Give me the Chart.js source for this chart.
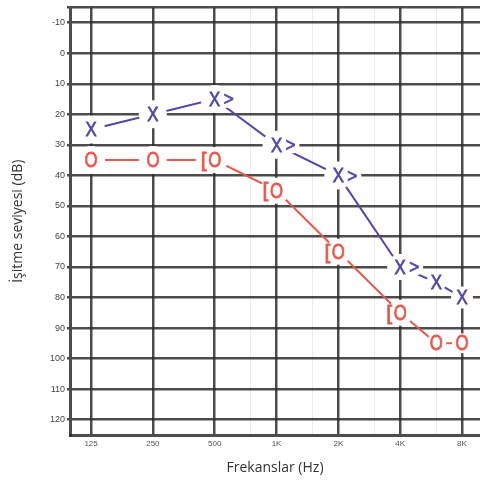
<!DOCTYPE html>
<html>
<head>
<meta charset="utf-8">
<script src="https://cdn.jsdelivr.net/npm/chart.js@4.4.1/dist/chart.umd.min.js"></script>
<style>
  body { margin: 0; background: #fff; }
  canvas { display: block; }
</style>
</head>
<body>
<canvas id="audiogram" width="480" height="484"></canvas>
<script>
// frekanslar (Hz) ve eşik değerleri (dB)
const freqs = [125, 250, 500, 1000, 2000, 4000, 6000, 8000];
const leftAir = [25, 20, 15, 30, 40, 70, 75, 80];
const rightAir = [35, 35, 35, 45, 65, 85, 95, 95];
const boneFreqs = [500, 1000, 2000, 4000];
const leftBone = [15, 30, 40, 70];
const rightBone = [35, 45, 65, 85];

const xTicks = [125, 250, 500, 1000, 2000, 4000, 8000];
const xTickLabels = ['125', '250', '500', '1K', '2K', '4K', '8K'];
const xMinorTicks = [750, 1500, 3000, 6000];
const yTicks = [-15, -10, 0, 10, 20, 30, 40, 50, 60, 70, 80, 90, 100, 110, 120];

const BLUE = '#5047aa';
const RED = '#e9574b';
const GRID = 'rgba(45,45,45,0.85)';

function toPoints(xs, ys) {
    return xs.map((x, i) => ({ x: x, y: ys[i] }));
}

// işaretleri (X, O, [, >) metin olarak çizen eklenti
const markerPlugin = {
    id: 'markers',
    afterDatasetsDraw(chart) {
        // çizgilerin işaretlere yakın kısmını sil
        const ctx = chart.ctx;
        ctx.save();
        ctx.fillStyle = '#fff';
        chart.data.datasets.forEach((ds, di) => {
            const meta = chart.getDatasetMeta(di);
            meta.data.forEach((pt, i) => {
                const r = Array.isArray(ds.maskR) ? ds.maskR[i] : ds.maskR;
                ctx.beginPath();
                ctx.arc(pt.x + ds.markerDx, pt.y, r, 0, Math.PI * 2);
                ctx.fill();
            });
        });
        ctx.restore();
    },
    afterDraw(chart) {
        const ctx = chart.ctx;
        chart.data.datasets.forEach((ds, di) => {
            const meta = chart.getDatasetMeta(di);
            meta.data.forEach(pt => {
                ctx.save();
                ctx.translate(pt.x + ds.markerDx, pt.y + 1);
                ctx.scale(ds.markerSx, 1);
                ctx.textAlign = 'center';
                ctx.textBaseline = 'middle';
                ctx.fillStyle = ds.markerColor;
                ctx.strokeStyle = ds.markerColor;
                ctx.lineWidth = 0.8;
                ctx.font = ds.markerFont;
                ctx.fillText(ds.marker, 0, 0);
                ctx.strokeText(ds.marker, 0, 0);
                ctx.restore();
            });
        });
    }
};

const ctx = document.getElementById('audiogram').getContext('2d');

new Chart(ctx, {
    type: 'line',
    data: {
        datasets: [
            {
                label: 'Sol hava',
                data: toPoints(freqs, leftAir),
                borderColor: BLUE,
                borderWidth: 2,
                pointRadius: 0,
                marker: 'X', markerColor: BLUE, markerFont: '21px "Liberation Sans"', markerSx: 0.8, markerDx: 0,
                maskR: [14, 14, 14, 14, 14, 13, 10, 11]
            },
            {
                label: 'Sağ hava',
                data: toPoints(freqs, rightAir),
                borderColor: RED,
                borderWidth: 2,
                pointRadius: 0,
                marker: 'O', markerColor: RED, markerFont: '22px "Liberation Sans"', markerSx: 0.76, markerDx: 0,
                maskR: [14, 14, 13, 13, 13, 13, 10, 10]
            },
            {
                label: 'Sol kemik',
                data: toPoints(boneFreqs, leftBone),
                showLine: false,
                pointRadius: 0,
                marker: '>', markerColor: BLUE, markerFont: '19px "Liberation Sans"', markerSx: 0.9, markerDx: 14, maskR: 9
            },
            {
                label: 'Sağ kemik',
                data: toPoints(boneFreqs, rightBone),
                showLine: false,
                pointRadius: 0,
                marker: '[', markerColor: RED, markerFont: '21px "Liberation Sans"', markerSx: 1, markerDx: -11, maskR: 8
            }
        ]
    },
    options: {
        responsive: false,
        animation: false,
        layout: { padding: { top: 5, left: 0, right: 0, bottom: 0 } },
        plugins: {
            legend: { display: false },
            tooltip: { enabled: false }
        },
        scales: {
            x: {
                type: 'logarithmic',
                min: 98.7,
                max: 9790,
                z: 1,
                afterBuildTicks: (scale) => {
                    scale.ticks = xTicks.concat(xMinorTicks).sort((a, b) => a - b).map(v => ({ value: v }));
                },
                afterFit: (scale) => { scale.height = 49; },
                ticks: {
                    autoSkip: false,
                    maxRotation: 0,
                    padding: 4,
                    color: '#555',
                    font: { family: 'Liberation Sans', size: 8 },
                    callback: (value) => {
                        const i = xTicks.indexOf(value);
                        return i >= 0 ? xTickLabels[i] : '';
                    }
                },
                grid: {
                    drawTicks: false,
                    color: (c) => xMinorTicks.includes(c.tick.value) ? '#ececec' : GRID,
                    lineWidth: (c) => xMinorTicks.includes(c.tick.value) ? 1 : 2.5
                },
                border: { color: GRID, width: 3 },
                title: {
                    display: true,
                    text: 'Frekanslar (Hz)',
                    color: '#333',
                    font: { family: 'Open Sans', size: 14 },
                    padding: { top: 0, bottom: 8 }
                }
            },
            y: {
                reverse: true,
                min: -15,
                max: 125,
                z: 1,
                afterBuildTicks: (scale) => {
                    scale.ticks = yTicks.map(v => ({ value: v }));
                },
                afterFit: (scale) => { scale.width = 70; },
                ticks: {
                    padding: 2,
                    color: '#444',
                    font: { family: 'Liberation Sans', size: 9 },
                    callback: (value) => value === -15 ? '' : value
                },
                grid: {
                    color: GRID,
                    lineWidth: 2.5,
                    tickLength: 3
                },
                border: { color: GRID, width: 3 },
                title: {
                    display: true,
                    text: 'İşitme seviyesi (dB)',
                    color: '#333',
                    font: { family: 'Open Sans', size: 14 },
                    padding: { top: 10, bottom: 0 }
                }
            }
        }
    },
    plugins: [markerPlugin]
});
</script>
</body>
</html>
